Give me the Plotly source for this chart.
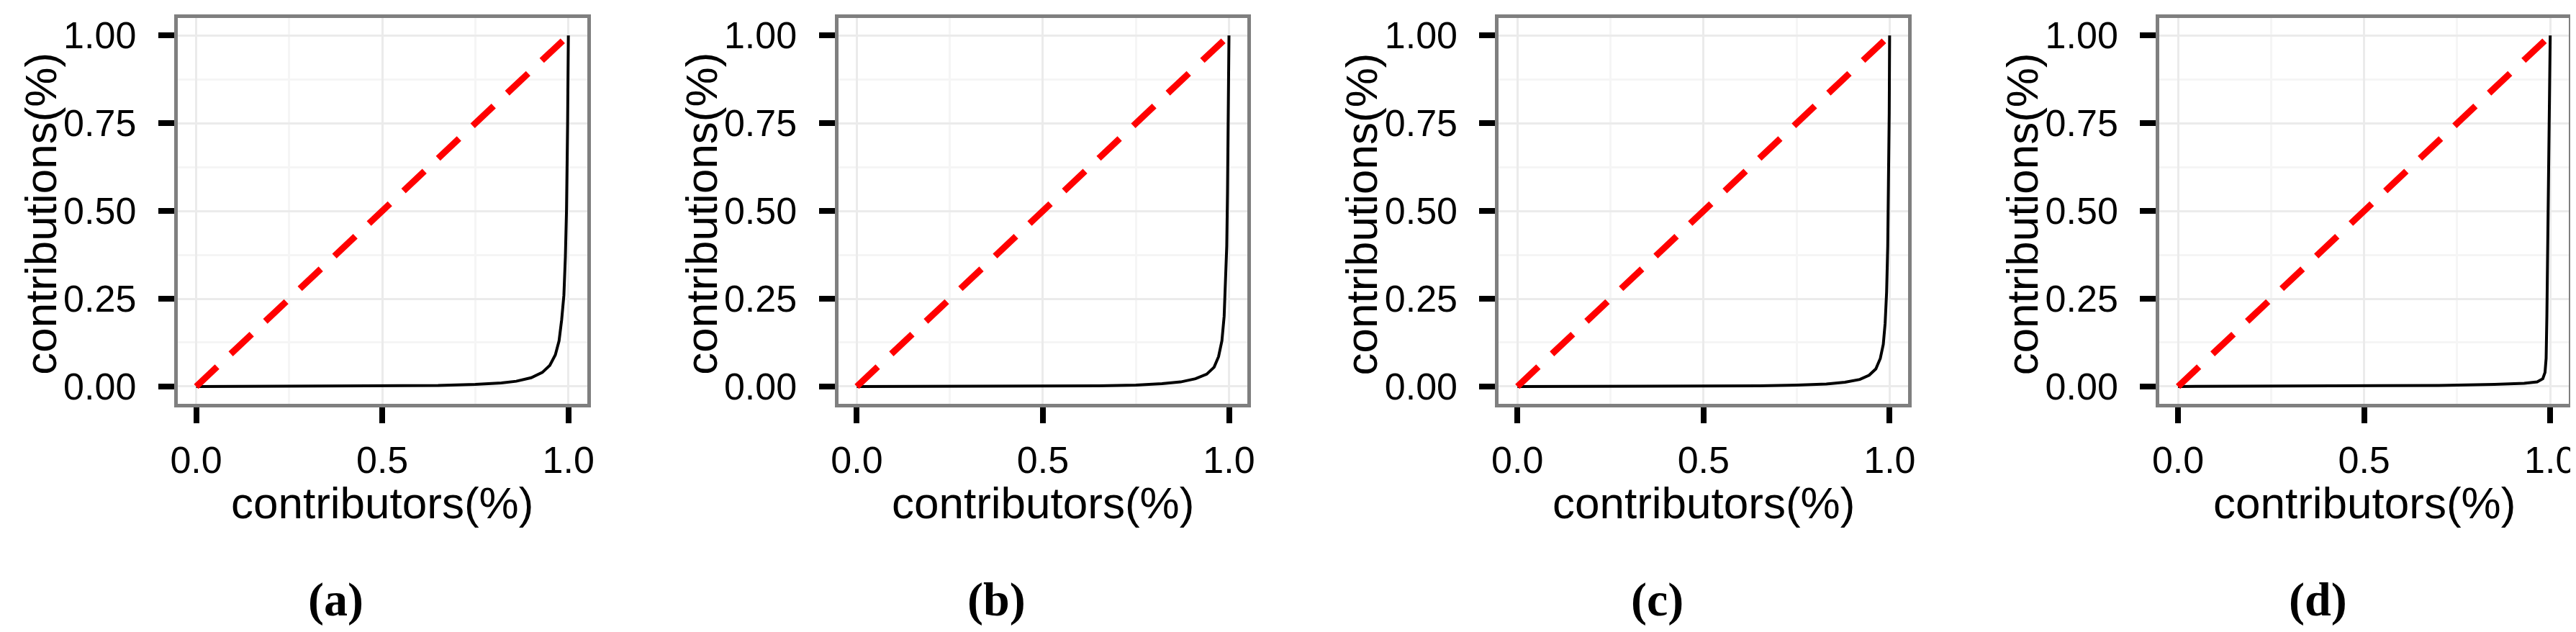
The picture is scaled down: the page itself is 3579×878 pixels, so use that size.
import plotly.graph_objects as go

# Lorenz-style curves (share of contributors vs share of contributions)
contributors_a = [0.0, 0.3, 0.5, 0.65, 0.75, 0.82, 0.86, 0.9, 0.93, 0.95, 0.965, 0.975, 0.982, 0.988, 0.992, 0.995, 0.998, 1.0]
contributions_a = [0.0, 0.0005, 0.001, 0.003, 0.006, 0.01, 0.015, 0.025, 0.04, 0.06, 0.09, 0.13, 0.19, 0.26, 0.37, 0.5, 0.75, 1.0]

contributors_b = [0.0, 0.3, 0.5, 0.65, 0.75, 0.82, 0.87, 0.91, 0.94, 0.96, 0.972, 0.981, 0.987, 0.991, 0.994, 0.996, 0.998, 1.0]
contributions_b = [0.0, 0.0004, 0.001, 0.002, 0.004, 0.008, 0.013, 0.022, 0.035, 0.055, 0.085, 0.13, 0.2, 0.29, 0.4, 0.55, 0.75, 1.0]

contributors_c = [0.0, 0.3, 0.5, 0.65, 0.75, 0.83, 0.88, 0.92, 0.945, 0.963, 0.975, 0.983, 0.988, 0.992, 0.995, 0.997, 0.999, 1.0]
contributions_c = [0.0, 0.0004, 0.001, 0.002, 0.004, 0.007, 0.012, 0.02, 0.032, 0.05, 0.08, 0.12, 0.18, 0.27, 0.4, 0.55, 0.78, 1.0]

contributors_d = [0.0, 0.3, 0.5, 0.7, 0.85, 0.93, 0.965, 0.98, 0.986, 0.989, 0.991, 0.993, 0.995, 0.997, 0.999, 1.0]
contributions_d = [0.0, 0.0005, 0.001, 0.003, 0.006, 0.009, 0.013, 0.022, 0.04, 0.08, 0.2, 0.35, 0.5, 0.7, 0.9, 1.0]

# line of perfect equality
equality_x = [0.0, 1.0]
equality_y = [0.0, 1.0]

x_ticks = [0.0, 0.5, 1.0]
x_minor = [0.25, 0.75]
y_ticks = [0.0, 0.25, 0.5, 0.75, 1.0]
y_minor = [0.125, 0.375, 0.625, 0.875]
panel_labels = ['(a)', '(b)', '(c)', '(d)']

W, H = 3579, 878
BOX_L, BOX_R, BOX_T, BOX_B = 230, 802, 13, 555
STEP = 923
SANS = 'Liberation Sans, Arial, sans-serif'


def add_panel(fig, k, xs, ys):
    n = '' if k == 0 else str(k + 1)
    fig.add_trace(go.Scatter(x=xs, y=ys, mode='lines',
                             line=dict(color='black', width=4),
                             xaxis='x' + n, yaxis='y' + n, showlegend=False))
    fig.add_trace(go.Scatter(x=equality_x, y=equality_y, mode='lines',
                             line=dict(color='#FF0000', width=9, dash='40px,26px'),
                             xaxis='x' + n, yaxis='y' + n, showlegend=False))

    left = BOX_L + k * STEP
    right = BOX_R + k * STEP
    common = dict(showline=True, mirror=True, linecolor='#7F7F7F', linewidth=5,
                  ticks='outside', ticklen=22, tickwidth=8, tickcolor='black',
                  showgrid=True, gridcolor='#EBEBEB', gridwidth=3, zeroline=False,
                  range=[-0.05, 1.05], fixedrange=True,
                  tickfont=dict(family=SANS, size=52, color='black'))
    fig.layout['xaxis' + n] = dict(
        domain=[left / W, right / W], anchor='y' + n,
        tickvals=x_ticks, ticktext=['%.1f' % v for v in x_ticks],
        minor=dict(tickvals=x_minor, showgrid=True, gridcolor='#F5F5F5', gridwidth=3, ticks=''),
        ticklabelstandoff=6, **common)
    fig.layout['yaxis' + n] = dict(
        domain=[1 - BOX_B / H, 1 - BOX_T / H], anchor='x' + n,
        tickvals=y_ticks, ticktext=['%.2f' % v for v in y_ticks],
        minor=dict(tickvals=y_minor, showgrid=True, gridcolor='#F5F5F5', gridwidth=3, ticks=''),
        ticklabelstandoff=20, **common)

    # axis titles and panel label
    fig.add_annotation(text='contributors(%)', x=(left + right) / 2 / W, y=1 - 694 / H,
                       xref='paper', yref='paper', showarrow=False,
                       xanchor='center', yanchor='middle',
                       font=dict(family=SANS, size=62, color='black'))
    fig.add_annotation(text='contributions(%)', x=(38 + k * STEP) / W, y=1 - 288 / H,
                       xref='paper', yref='paper', showarrow=False, textangle=-90,
                       xanchor='center', yanchor='middle',
                       font=dict(family=SANS, size=62, color='black'))
    fig.add_annotation(text='<b>%s</b>' % panel_labels[k], x=(451 + k * STEP) / W, y=1 - 830 / H,
                       xref='paper', yref='paper', showarrow=False,
                       xanchor='center', yanchor='middle',
                       font=dict(family='Liberation Serif, Times New Roman, serif', size=66, color='black'))


def main():
    fig = go.Figure()
    curves = [(contributors_a, contributions_a), (contributors_b, contributions_b),
              (contributors_c, contributions_c), (contributors_d, contributions_d)]
    for k, (xs, ys) in enumerate(curves):
        add_panel(fig, k, xs, ys)

    fig.update_layout(width=W, height=H, margin=dict(l=0, r=0, t=0, b=0),
                      paper_bgcolor='white', plot_bgcolor='white', showlegend=False)
    fig.write_html('out.html')


if __name__ == '__main__':
    main()
